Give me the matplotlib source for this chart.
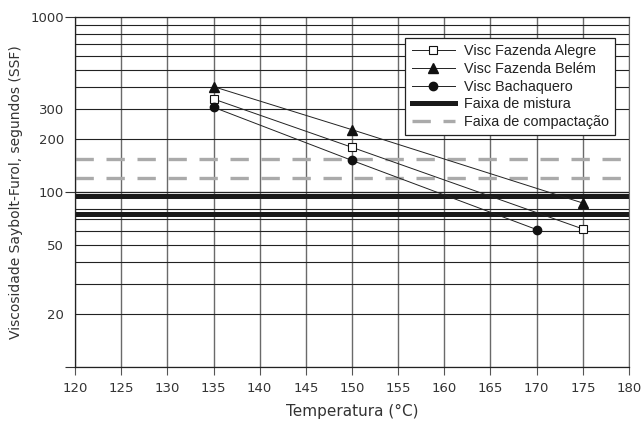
import matplotlib
matplotlib.use("Agg")
import matplotlib.pyplot as plt
from matplotlib.ticker import FixedLocator, FuncFormatter

# viscosity (SSF) vs temperature for the three binders
temp_alegre = [135, 150, 175]
visc_alegre = [340, 180, 61.5]
temp_belem = [135, 150, 175]
visc_belem = [400, 227, 86.5]
temp_bachaquero = [135, 150, 170]
visc_bachaquero = [305, 151.5, 61]

# viscosity ranges for mixing and compaction
faixa_mistura = [75, 95]
faixa_compactacao = [120, 155]

x_ticks = list(range(120, 181, 5))
y_grid = [20, 30, 40, 50, 60, 70, 80, 200, 300, 400, 500, 600, 700, 800, 900]
y_labels = [20, 50, 200, 300]

plt.rcParams["font.family"] = ["DejaVu Sans"]

fig = plt.figure(figsize=(6.44, 4.23), dpi=100)
ax = fig.add_axes([75 / 644, 1 - 367 / 423, 554 / 644, 350 / 423])

ax.set_yscale("log")
ax.set_xlim(120, 180)
ax.set_ylim(10, 1000)

# grid
ax.set_xticks(x_ticks)
ax.yaxis.set_major_locator(FixedLocator([10, 100, 1000]))
ax.yaxis.set_minor_locator(FixedLocator(y_grid))
ax.yaxis.set_major_formatter(FuncFormatter(lambda v, p: "" if v < 50 else "%d" % v))
ax.yaxis.set_minor_formatter(
    FuncFormatter(lambda v, p: "%d" % v if round(v) in y_labels else ""))
ax.grid(True, axis="x", color="#6a6a6a", lw=1.0, zorder=0)
ax.grid(True, axis="y", which="both", color="#222222", lw=0.8, zorder=0)
ax.axhline(100, color="#8a8a8a", lw=1.0, zorder=1)

ax.tick_params(axis="y", which="major", length=7, width=0.8, color="#333333",
               labelsize=9.5, labelcolor="#333333", pad=1)
ax.tick_params(axis="y", which="minor", length=0, labelsize=9.5,
               labelcolor="#333333", pad=8)
ax.tick_params(axis="x", length=6, width=0.8, color="#555555",
               labelsize=9.5, labelcolor="#333333", pad=5)

for s in ["left", "bottom", "top"]:
    ax.spines[s].set_color("#222222")
    ax.spines[s].set_linewidth(0.9)
ax.spines["right"].set_color("#6a6a6a")

# mixing / compaction ranges
for i, v in enumerate(faixa_mistura):
    ax.axhline(v, color="#1a1a1a", lw=3.6, zorder=2,
               label="Faixa de mistura" if i == 0 else None)
for i, v in enumerate(faixa_compactacao):
    ax.axhline(v, color="#aaaaaa", lw=2.4, ls=(0, (5.5, 3.8)), zorder=2,
               label="Faixa de compactação" if i == 0 else None)

# viscosity curves
ax.plot(temp_alegre, visc_alegre, "-s", color="#222222", lw=0.7,
        ms=5.5, mfc="white", mec="#111111", mew=0.8, zorder=4,
        label="Visc Fazenda Alegre")
ax.plot(temp_belem, visc_belem, "-^", color="#222222", lw=0.7,
        ms=6.5, mfc="#111111", mec="#111111", zorder=4,
        label="Visc Fazenda Belém")
ax.plot(temp_bachaquero, visc_bachaquero, "-o", color="#222222", lw=0.7,
        ms=6, mfc="#111111", mec="#111111", zorder=4,
        label="Visc Bachaquero")

handles, labels = ax.get_legend_handles_labels()
order = [labels.index(n) for n in ["Visc Fazenda Alegre", "Visc Fazenda Belém",
                                   "Visc Bachaquero", "Faixa de mistura",
                                   "Faixa de compactação"]]
leg = ax.legend([handles[i] for i in order], [labels[i] for i in order],
                loc="upper right", bbox_to_anchor=(0.975, 0.94),
                fancybox=False, framealpha=1, edgecolor="#222222",
                handlelength=3.0, labelspacing=0.25,
                borderpad=0.45, handletextpad=0.6, borderaxespad=0,
                prop={"family": ["Liberation Sans", "DejaVu Sans"],
                      "size": 10.4})
leg.get_frame().set_linewidth(0.9)
leg.set_zorder(5)
for t in leg.get_texts():
    t.set_color("#222222")

ax.set_xlabel("Temperatura (°C)", fontsize=11, color="#333333", labelpad=6)
ax.set_ylabel("Viscosidade Saybolt-Furol, segundos (SSF)", fontsize=10,
              color="#333333", labelpad=5)

fig.savefig("out.png", dpi=100)
